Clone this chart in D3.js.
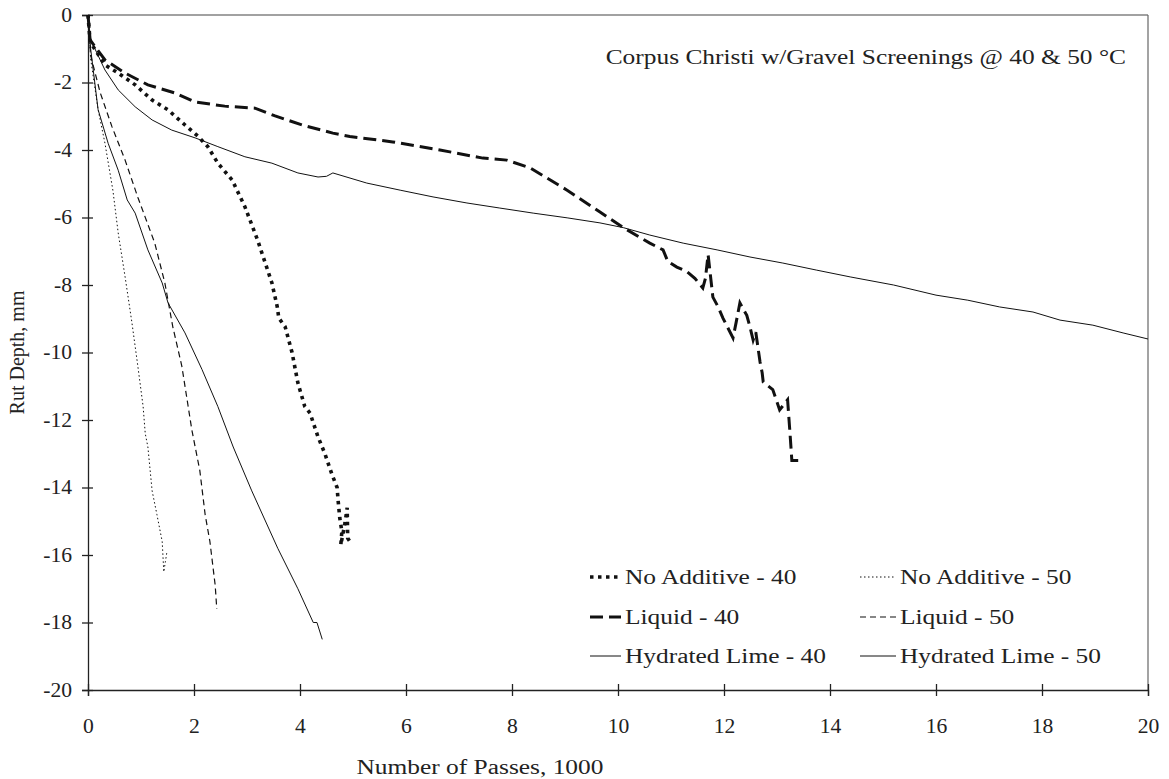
<!DOCTYPE html>
<html lang="en">
<head>
<meta charset="UTF-8">
<title>Rut Depth</title>
<style>
  body { margin: 0; background: #fff; }
  text { font-family: "Liberation Serif", "Times New Roman", serif; fill: #222; }
</style>
</head>
<body>
<div id="chart"></div>
<script src="https://d3js.org/d3.v7.min.js"></script>
<script>
// tick labels
var xTicks = [0, 2, 4, 6, 8, 10, 12, 14, 16, 18, 20];
var yTicks = [0, -2, -4, -6, -8, -10, -12, -14, -16, -18, -20];

var seriesNames = ["No Additive - 40", "No Additive - 50", "Liquid - 40",
                   "Liquid - 50", "Hydrated Lime - 40", "Hydrated Lime - 50"];

// passes (1000) / rut depth (mm)
var noAdd40X = [0, 0.04, 0.32, 0.57, 0.89, 1.21, 1.51, 1.83, 2.08, 2.26, 2.45, 2.72, 2.96, 3.2, 3.47, 3.57, 3.6, 3.72, 3.85, 3.96, 4.09, 4.19, 4.34, 4.47, 4.6, 4.7, 4.72, 4.75, 4.79, 4.77, 4.85, 4.89, 4.9, 4.94];
var noAdd40Y = [0, -0.8, -1.48, -1.72, -2.07, -2.52, -2.81, -3.26, -3.6, -3.9, -4.39, -4.89, -5.68, -6.67, -7.94, -8.64, -8.98, -9.24, -10.0, -10.9, -11.6, -11.8, -12.5, -13.0, -13.6, -14.0, -14.4, -14.9, -15.3, -15.7, -15.05, -14.6, -15.5, -15.6];

var noAdd50X = [0, 0.05, 0.19, 0.32, 0.47, 0.57, 0.7, 0.83, 0.94, 1.04, 1.08, 1.13, 1.21, 1.3, 1.4, 1.43, 1.46, 1.49];
var noAdd50Y = [0, -1.3, -2.8, -3.8, -5.2, -6.46, -7.76, -9.13, -10.4, -11.6, -12.4, -12.8, -14.1, -14.8, -15.6, -16.5, -16.2, -15.9];

var liquid40X = [0, 0.04, 0.32, 0.7, 1.13, 1.64, 2.02, 2.58, 3.15, 3.53, 4.04, 4.62, 4.94, 5.75, 6.64, 7.45, 7.9, 8.34, 9.04, 9.66, 10.1, 10.6, 10.85, 10.94, 11.11, 11.3, 11.45, 11.6, 11.65, 11.7, 11.79, 11.89, 11.98, 12.17, 12.23, 12.3, 12.43, 12.49, 12.55, 12.6, 12.64, 12.68, 12.72, 12.74, 12.92, 13.05, 13.15, 13.2, 13.25, 13.28, 13.4];
var liquid40Y = [0, -0.74, -1.33, -1.72, -2.07, -2.31, -2.58, -2.7, -2.76, -2.99, -3.26, -3.5, -3.6, -3.76, -4.0, -4.24, -4.3, -4.53, -5.19, -5.84, -6.3, -6.76, -6.96, -7.3, -7.47, -7.6, -7.8, -8.09, -7.8, -7.1, -8.36, -8.65, -8.98, -9.57, -9.1, -8.53, -8.9, -9.24, -9.63, -9.4, -9.84, -10.28, -10.6, -10.87, -11.1, -11.7, -11.5, -11.4, -12.5, -13.2, -13.2];

var liquid50X = [0, 0.05, 0.23, 0.45, 0.7, 0.94, 1.26, 1.45, 1.6, 1.77, 1.89, 1.96, 2.11, 2.21, 2.3, 2.4, 2.43];
var liquid50Y = [0, -1.2, -2.3, -3.3, -4.3, -5.4, -6.76, -7.94, -9.24, -10.4, -11.6, -12.3, -13.5, -14.8, -15.6, -16.9, -17.6];

var lime40X = [0, 0.04, 0.32, 0.57, 0.89, 1.21, 1.58, 2.02, 2.45, 2.96, 3.47, 3.96, 4.34, 4.5, 4.62, 5.26, 5.89, 6.51, 7.15, 7.77, 8.4, 9.04, 9.66, 10.1, 10.6, 11.23, 11.87, 12.49, 13.11, 13.75, 14.38, 15.2, 16.0, 16.6, 17.2, 17.83, 18.34, 18.96, 19.53, 20];
var lime40Y = [0, -0.7, -1.63, -2.22, -2.72, -3.11, -3.41, -3.64, -3.9, -4.2, -4.39, -4.68, -4.8, -4.78, -4.68, -4.98, -5.19, -5.39, -5.57, -5.72, -5.87, -6.01, -6.16, -6.3, -6.52, -6.76, -6.96, -7.17, -7.35, -7.56, -7.76, -8.0, -8.3, -8.45, -8.65, -8.8, -9.04, -9.19, -9.42, -9.6];

var lime50X = [0, 0.05, 0.19, 0.38, 0.57, 0.74, 0.89, 1.13, 1.4, 1.51, 1.83, 2.15, 2.45, 2.74, 3.09, 3.58, 3.96, 4.25, 4.32, 4.42];
var lime50Y = [0, -1.0, -2.8, -3.8, -4.6, -5.48, -5.87, -6.96, -7.94, -8.53, -9.42, -10.5, -11.6, -12.8, -14.1, -15.8, -17.0, -18.0, -18.0, -18.5];

var title = "Corpus Christi w/Gravel Screenings @ 40 & 50 \u00B0C";

var width = 1169, height = 779;
var margin = {left: 88, top: 15, right: 21, bottom: 89};

var svg = d3.select("#chart").append("svg")
  .attr("width", width)
  .attr("height", height);

var x = d3.scaleLinear().domain([0, 20]).range([margin.left, width - margin.right]);
var y = d3.scaleLinear().domain([0, -20]).range([margin.top, height - margin.bottom]);

// frame top and right
svg.append("line")
  .attr("x1", x(0)).attr("x2", x(20)).attr("y1", y(0)).attr("y2", y(0))
  .attr("stroke", "#444").attr("stroke-width", 1.2);
svg.append("line")
  .attr("x1", x(20)).attr("x2", x(20)).attr("y1", y(0)).attr("y2", y(-20))
  .attr("stroke", "#666").attr("stroke-width", 1.2);

var fmt = function(d) { return String(d); };

var xAxis = svg.append("g")
  .attr("transform", "translate(0," + y(-20) + ")")
  .call(d3.axisBottom(x).tickValues(xTicks).tickSize(6).tickPadding(23).tickFormat(fmt));
xAxis.selectAll(".tick line").attr("y1", -6);

var yAxis = svg.append("g")
  .attr("transform", "translate(" + x(0) + ",0)")
  .call(d3.axisLeft(y).tickValues(yTicks).tickSize(6).tickPadding(10).tickFormat(fmt));
yAxis.selectAll(".tick line").attr("x1", -6).attr("x2", 5);

svg.selectAll(".domain").attr("stroke", "#222").attr("stroke-width", 1.3);
svg.selectAll(".tick line").attr("stroke", "#222").attr("stroke-width", 1.3);
xAxis.attr("font-family", "Liberation Serif").attr("font-size", 20);
yAxis.attr("font-family", "Liberation Serif").attr("font-size", 20);
svg.selectAll(".tick text")
  .attr("class", "wide small")
  .attr("fill", "#222");

// axis titles
svg.append("text")
  .attr("class", "wide")
  .attr("x", 480)
  .attr("y", 774)
  .attr("text-anchor", "middle")
  .style("font-size", "20px")
  .text("Number of Passes, 1000");

svg.append("text")
  .attr("transform", "translate(24," + (y(-10)) + ") rotate(-90)")
  .attr("text-anchor", "middle")
  .style("font-size", "20px")
  .text("Rut Depth, mm");

svg.append("text")
  .attr("class", "wide")
  .attr("x", 1126)
  .attr("y", 64)
  .attr("text-anchor", "end")
  .style("font-size", "20px")
  .text(title);

// series
var styles = [
  {w: 3.6, dash: "3.5,4.5"},
  {w: 1, dash: "1.5,2.5"},
  {w: 3, dash: "13,6"},
  {w: 1.2, dash: "6,4"},
  {w: 1, dash: null},
  {w: 1, dash: null}
];
var xs = [noAdd40X, noAdd50X, liquid40X, liquid50X, lime40X, lime50X];
var ys = [noAdd40Y, noAdd50Y, liquid40Y, liquid50Y, lime40Y, lime50Y];

var line = d3.line()
  .x(function(d) { return x(d[0]); })
  .y(function(d) { return y(d[1]); });

// draw thin lines first, heavy on top
[4, 5, 3, 1, 2, 0].forEach(function(i) {
  var pts = xs[i].map(function(v, j) { return [v, ys[i][j]]; });
  svg.append("path")
    .datum(pts)
    .attr("d", line)
    .attr("fill", "none")
    .attr("stroke", "#111")
    .attr("stroke-width", styles[i].w)
    .attr("stroke-dasharray", styles[i].dash);
});

// legend
var legend = svg.append("g");
var legendCols = [590, 860];
var legendRows = [577, 617, 656];
seriesNames.forEach(function(name, i) {
  var lx = legendCols[i % 2];
  var ly = legendRows[Math.floor(i / 2)];
  var lineLen = i % 2 === 0 ? 31 : 36;
  legend.append("line")
    .attr("x1", lx).attr("x2", lx + lineLen)
    .attr("y1", ly).attr("y2", ly)
    .attr("stroke", "#111")
    .attr("stroke-width", styles[i].w)
    .attr("stroke-dasharray", styles[i].dash);
  legend.append("text")
    .attr("class", "wide")
    .attr("x", lx + lineLen + 4)
    .attr("y", ly + 7)
    .style("font-size", "20px")
    .text(name);
});

// widen the serif text like the scan
svg.selectAll("text.wide").each(function() {
  var len = this.getComputedTextLength();
  var k = d3.select(this).classed("small") ? 1.08 : 1.27;
  d3.select(this)
    .attr("textLength", len * k)
    .attr("lengthAdjust", "spacingAndGlyphs");
});
</script>
</body>
</html>
